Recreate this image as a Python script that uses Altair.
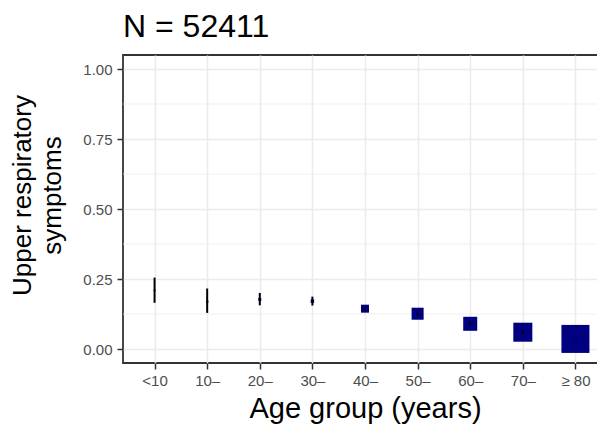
import altair as alt
import pandas as pd

ages = ["<10", "10–", "20–", "30–", "40–", "50–", "60–", "70–", "≥ 80"]
prop = [0.209, 0.169, 0.177, 0.171, 0.144, 0.126, 0.090, 0.060, 0.036]
lo = [0.165, 0.129, 0.156, 0.155, 0.137, 0.119, 0.084, 0.055, 0.034]
hi = [0.255, 0.216, 0.200, 0.187, 0.151, 0.133, 0.096, 0.065, 0.038]
counts = [120, 191, 300, 400, 2100, 4800, 6500, 12000, 26000]
y_ticks = [0.0, 0.25, 0.5, 0.75, 1.0]
y_minor = [0.125, 0.375, 0.625, 0.875]

df = pd.DataFrame({"age": ages, "p": prop, "lo": lo, "hi": hi, "n": counts})
minor_df = pd.DataFrame({"v": y_minor})

FONT = "Liberation Sans"

xscale = alt.Scale(type="point", domain=ages, padding=0.6)
yscale = alt.Scale(domain=[-0.05, 1.05], nice=False, zero=False)

xaxis = alt.Axis(title="Age group (years)", labelAngle=0, grid=True,
                 gridColor="#EBEBEB", gridWidth=1.5, domain=False,
                 tickColor="#333333", tickSize=6, tickWidth=1.5,
                 labelColor="#4D4D4D", labelFontSize=15, labelPadding=4,
                 titleFontSize=29, titleFontWeight="normal", titleColor="black",
                 titlePadding=6, labelFont=FONT, titleFont=FONT)
yaxis = alt.Axis(title=["Upper respiratory", "symptoms"], values=y_ticks, format=".2f",
                 grid=True, gridColor="#EBEBEB", gridWidth=1.5, domain=False,
                 tickColor="#333333", tickSize=6, tickWidth=1.5,
                 labelColor="#4D4D4D", labelFontSize=15, labelPadding=5,
                 titleFontSize=26, titleFontWeight="normal", titleColor="black",
                 titleLineHeight=30, titlePadding=17, titleY=140,
                 labelFont=FONT, titleFont=FONT)

minor = alt.Chart(minor_df).mark_rule(color="#EBEBEB", strokeWidth=0.8).encode(
    y=alt.Y("v:Q", scale=yscale, axis=yaxis)
)

points = alt.Chart(df).mark_square(color="#000080", opacity=1, filled=True).encode(
    x=alt.X("age:N", scale=xscale, axis=xaxis, sort=ages),
    y=alt.Y("p:Q", scale=yscale, axis=yaxis),
    size=alt.Size("n:Q", scale=alt.Scale(domain=[0, 26000], range=[0, 784], zero=True), legend=None),
)

bars = alt.Chart(df).mark_rule(color="black", strokeWidth=2).encode(
    x=alt.X("age:N", scale=xscale, axis=xaxis, sort=ages),
    y=alt.Y("lo:Q", scale=yscale, axis=yaxis),
    y2="hi:Q",
)

chart = alt.layer(minor, points, bars).properties(
    width=484, height=308,
    background="white",
    title=alt.Title("N = 52411", anchor="start", frame="group", fontSize=32,
                    fontWeight="normal", font=FONT, color="black", offset=11),
    autosize=alt.AutoSizeParams(type="none"),
    padding={"left": 115, "top": 47, "right": -10, "bottom": 71},
).configure_view(stroke="#333333", strokeWidth=1.8)

chart.save("out.html", embed_options={"renderer": "svg", "actions": False})
